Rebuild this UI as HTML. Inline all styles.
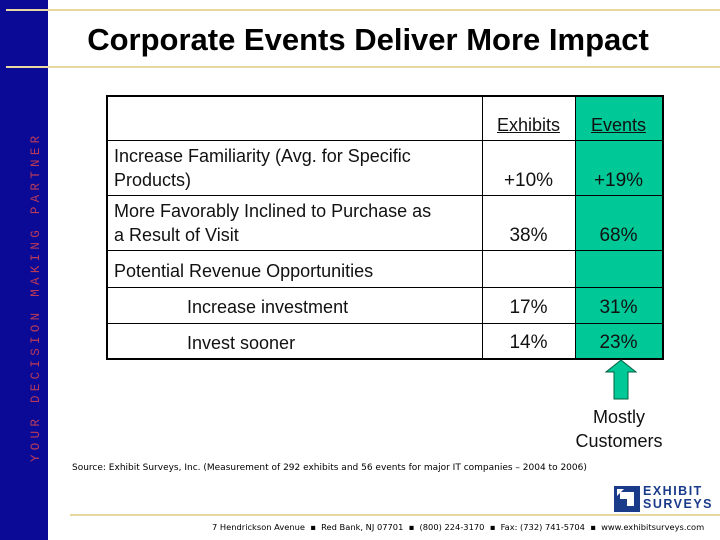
<!DOCTYPE html>
<html><head><meta charset="utf-8"><style>
body{margin:0;width:720px;height:540px;position:relative;background:#fff;font-family:"Liberation Sans",sans-serif;overflow:hidden}
.a{position:absolute}
.t{font-size:18px;color:#111;line-height:24px}
.n{font-size:19px;color:#111;text-align:center}
.h{position:absolute;background:#000;height:1px}
.v{position:absolute;background:#000;width:1px}
</style></head><body>
<div class="a" style="left:0;top:0;width:48px;height:540px;background:#0a0a96"></div>
<div class="a" style="left:29px;top:462px;transform:rotate(-90deg);transform-origin:0 0;white-space:nowrap;font-family:'Liberation Mono',monospace;font-size:12.5px;letter-spacing:4.3px;color:#b83a5a">YOUR DECISION MAKING PARTNER</div>
<div class="a" style="left:6px;top:9px;width:714px;height:2px;background:#e8d8a0"></div>
<div class="a" style="left:6px;top:66px;width:714px;height:2px;background:#e8d8a0"></div>
<div class="a" style="left:48px;top:22px;width:640px;text-align:center;font-size:31px;font-weight:bold;color:#000">Corporate Events Deliver More Impact</div>

<div class="a" style="left:575px;top:95px;width:87px;height:263px;background:#00c896"></div>
<div class="a" style="left:106px;top:95px;width:554px;height:261px;border:2px solid #000"></div>
<div class="h" style="left:106px;top:140px;width:556px"></div>
<div class="h" style="left:106px;top:195px;width:556px"></div>
<div class="h" style="left:106px;top:250px;width:556px"></div>
<div class="h" style="left:482px;top:287px;width:180px"></div>
<div class="h" style="left:106px;top:323px;width:556px"></div>
<div class="v" style="left:482px;top:95px;height:263px"></div>
<div class="v" style="left:575px;top:95px;height:263px"></div>
<div class="h" style="left:106px;top:287px;width:376px"></div>

<div class="a n" style="left:482px;top:115px;width:93px;font-size:18px"><u>Exhibits</u></div>
<div class="a n" style="left:575px;top:115px;width:87px;font-size:18px"><u>Events</u></div>

<div class="a t" style="left:114px;top:144px">Increase Familiarity (Avg. for Specific<br>Products)</div>
<div class="a t" style="left:114px;top:199px">More Favorably Inclined to Purchase as<br>a Result of Visit</div>
<div class="a t" style="left:114px;top:259px">Potential Revenue Opportunities</div>
<div class="a t" style="left:187px;top:295px">Increase investment</div>
<div class="a t" style="left:187px;top:331px">Invest sooner</div>

<div class="a n" style="left:482px;top:170px;width:93px">+10%</div>
<div class="a n" style="left:575px;top:170px;width:87px">+19%</div>
<div class="a n" style="left:482px;top:225px;width:93px">38%</div>
<div class="a n" style="left:575px;top:225px;width:87px">68%</div>
<div class="a n" style="left:482px;top:297px;width:93px">17%</div>
<div class="a n" style="left:575px;top:297px;width:87px">31%</div>
<div class="a n" style="left:482px;top:332px;width:93px">14%</div>
<div class="a n" style="left:575px;top:332px;width:87px">23%</div>

<svg class="a" style="left:605px;top:359px" width="32" height="42"><polygon points="16,1 31,13 23,13 23,40 9,40 9,13 1,13" fill="#00c896" stroke="#006040" stroke-width="1"/></svg>
<div class="a" style="left:560px;top:405px;width:118px;text-align:center;font-size:18px;line-height:24px;color:#111">Mostly<br>Customers</div>

<div class="a" style="left:72px;top:463px;font-family:'DejaVu Sans',sans-serif;font-size:9px;color:#000;white-space:nowrap">Source: Exhibit Surveys, Inc. (Measurement of 292 exhibits and 56 events for major IT companies – 2004 to 2006)</div>

<div class="a" style="left:614px;top:486px">
<svg width="26" height="26" style="position:absolute;left:0;top:0"><rect width="26" height="26" fill="#1a3a8a"/><polygon points="6,6 20,6 20,20 13,20 13,13 6,13" fill="#fff"/><polygon points="3,3 10,3 3,10" fill="#fff"/></svg>
<div class="a" style="left:29px;top:-1px;font-size:12.5px;font-weight:bold;color:#1a3a8a;letter-spacing:1.5px;line-height:13px">EXHIBIT<br>SURVEYS</div>
</div>
<div class="a" style="left:70px;top:514px;width:650px;height:2px;background:#e8d8a0"></div>
<div class="a" style="left:212px;top:522px;font-family:'DejaVu Sans',sans-serif;font-size:8.3px;color:#000;white-space:nowrap">7 Hendrickson Avenue &nbsp;▪ &nbsp;Red Bank, NJ 07701 &nbsp;▪ &nbsp;(800) 224-3170 &nbsp;▪ &nbsp;Fax: (732) 741-5704 &nbsp;▪ &nbsp;www.exhibitsurveys.com</div>
</body></html>
